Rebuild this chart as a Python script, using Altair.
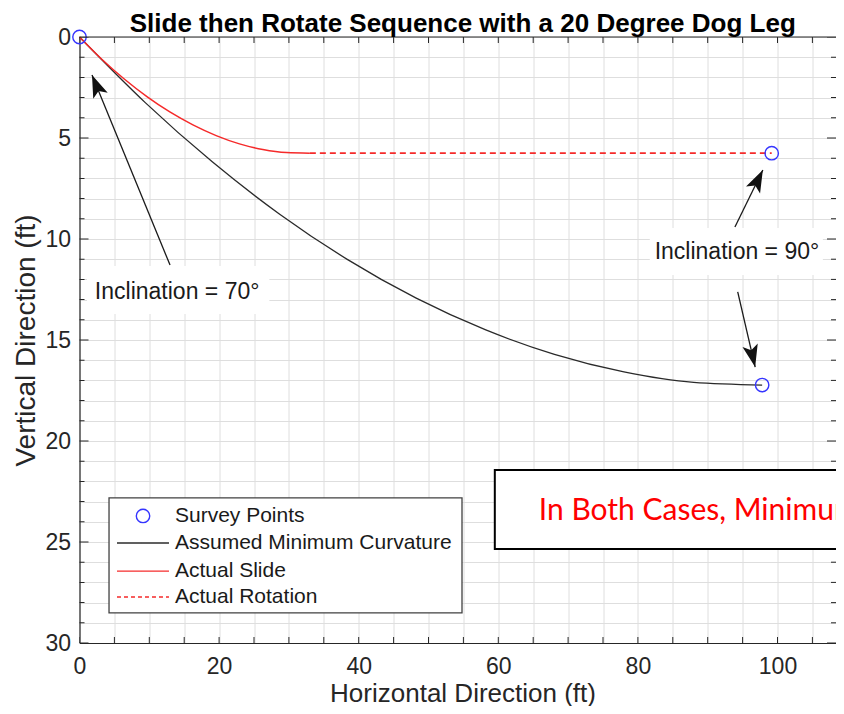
import math
import altair as alt
import pandas as pd

# ---------------- data ----------------
mc_x = [0, 9.46, 19.02, 28.68, 38.42, 48.24, 58.12, 68.04, 78.00, 87.99, 97.80]
mc_y = [0, 3.26, 6.18, 8.77, 11.02, 12.93, 14.49, 15.71, 16.58, 17.10, 17.23]

slide_x = [0, 3.19, 6.41, 9.66, 12.94, 16.25, 19.58, 22.92, 26.27, 29.64, 33.00]
slide_y = [0, 1.10, 2.08, 2.95, 3.71, 4.35, 4.88, 5.29, 5.57, 5.72, 5.75]

rot_x = [33.00, 99.17]
rot_y = [5.75, 5.75]

survey_x = [0, 99.17, 97.80]
survey_y = [0, 5.75, 17.23]

arrow_x0 = [12.97, 93.9, 94.3]
arrow_y0 = [11.29, 9.41, 12.62]
arrow_x1 = [1.79, 97.9, 96.8]
arrow_y1 = [1.88, 6.58, 16.34]

ann_text = ["Inclination = 70°", "Inclination = 90°"]
ann_x = [2.2, 82.4]
ann_y = [12.6, 10.62]
ann_box_x0 = [1.07, 81.7]
ann_box_x1 = [27.2, 106.5]
ann_box_y0 = [11.34, 9.46]
ann_box_y1 = [13.71, 11.78]

legend_labels = ["Survey Points", "Assumed Minimum Curvature", "Actual Slide", "Actual Rotation"]

note_text = ["In Both Cases, Minimum Curvature"]
title_text = ["Slide then Rotate Sequence with a 20 Degree Dog Leg"]

x_ticks = list(range(0, 110, 5))
y_major = list(range(0, 31, 5))
y_minor = [v for v in range(0, 31) if v % 5 != 0]
y_grid = list(range(0, 31))

# ---------------- layout ----------------
W = 756.5
H = 606
XMAX = W / 6.98
PX = W / XMAX
PY = H / 30.0
FONT = "Liberation Sans"
AX = "#262626"
RED = "#f52a2a"

xs = alt.Scale(domain=[0, XMAX], nice=False, zero=False)
ys = alt.Scale(domain=[0, 30], reverse=True, nice=False, zero=False)

xaxis = alt.Axis(
    values=x_ticks, labelExpr="datum.value % 20 == 0 ? datum.label : ''",
    title="Horizontal Direction (ft)", grid=True, gridColor="#dedede", gridWidth=1,
    ticks=False, domain=True, domainColor=AX, domainWidth=1.2,
    labelFont=FONT, labelFontSize=23, labelColor=AX, labelPadding=12,
    labelFlush=False, labelOverlap=False,
    titleFont=FONT, titleFontSize=26, titleFontWeight="normal", titleColor=AX,
    titleX=383, titleY=37,
)
yaxis = alt.Axis(
    values=y_grid, labelExpr="datum.value % 5 == 0 ? datum.label : ''",
    title="Vertical Direction (ft)", grid=True, gridColor="#dedede", gridWidth=1,
    ticks=False, domain=True, domainColor=AX, domainWidth=1.2,
    labelFont=FONT, labelFontSize=23, labelColor=AX, labelPadding=9,
    labelFlush=False, labelOverlap=False,
    titleFont=FONT, titleFontSize=28, titleFontWeight="normal", titleColor=AX,
    titlePadding=4,
)


def X(f="x"):
    return alt.X(f, type="quantitative", scale=xs, axis=xaxis)


def Y(f="y"):
    return alt.Y(f, type="quantitative", scale=ys, axis=yaxis)


# ---------------- frame & ticks ----------------
top_border = alt.Chart(pd.DataFrame({"y": [0]})).mark_rule(color=AX, strokeWidth=1.2).encode(y=Y())

tick_layers = []
for yy in (0, 30):
    tick_layers.append(
        alt.Chart(pd.DataFrame({"x": x_ticks, "y": [yy] * len(x_ticks)}))
        .mark_tick(orient="vertical", size=12, thickness=1, clip=True, color=AX, opacity=1)
        .encode(x=X(), y=Y())
    )
for xx in (0, XMAX):
    for vals, sz in ((y_major, 18), (y_minor, 10)):
        tick_layers.append(
            alt.Chart(pd.DataFrame({"x": [xx] * len(vals), "y": vals}))
            .mark_tick(orient="horizontal", size=sz, thickness=1, clip=True, color=AX, opacity=1)
            .encode(x=X(), y=Y())
        )

# ---------------- annotation boxes ----------------
ann_boxes = alt.Chart(pd.DataFrame({"x": ann_box_x0, "x2": ann_box_x1, "y": ann_box_y0, "y2": ann_box_y1})).mark_rect(
    fill="white", clip=True
).encode(x=X(), x2="x2", y=Y(), y2="y2")

# ---------------- curves ----------------
mc_line = alt.Chart(pd.DataFrame({"x": mc_x, "y": mc_y})).mark_line(
    color="#2a2a2a", strokeWidth=1.3, interpolate="monotone"
).encode(x=X(), y=Y(), order=alt.Order("x:Q"))

slide_line = alt.Chart(pd.DataFrame({"x": slide_x, "y": slide_y})).mark_line(
    color=RED, strokeWidth=1.5, interpolate="monotone"
).encode(x=X(), y=Y(), order=alt.Order("x:Q"))

rot_line = alt.Chart(pd.DataFrame({"x": rot_x, "y": rot_y})).mark_line(
    color=RED, strokeWidth=1.6, strokeDash=[6, 4]
).encode(x=X(), y=Y())

survey = alt.Chart(pd.DataFrame({"x": survey_x, "y": survey_y})).mark_point(
    shape="circle", size=180, color="#3535ff", strokeWidth=1.4, filled=False, opacity=1
).encode(x=X(), y=Y())

# ---------------- arrows ----------------
angles = []
for x0, y0, x1, y1 in zip(arrow_x0, arrow_y0, arrow_x1, arrow_y1):
    dxp = (x1 - x0) * PX
    dyp = (y1 - y0) * PY
    angles.append(math.degrees(math.atan2(dxp, -dyp)) % 360)

arrow_df = pd.DataFrame({"x": arrow_x0, "y": arrow_y0, "x2": arrow_x1, "y2": arrow_y1, "ang": angles})
arrow_lines = alt.Chart(arrow_df).mark_rule(color="#1a1a1a", strokeWidth=1.3).encode(
    x=X(), y=Y(), x2="x2", y2="y2"
)
head_df = pd.DataFrame({"x": arrow_x1, "y": arrow_y1, "ang": angles})
arrow_heads = alt.Chart(head_df).mark_point(
    shape="M0,0L0.7,2L0,1.55L-0.7,2Z", size=500, filled=True, color="#111111", opacity=1, strokeWidth=0
).encode(x=X(), y=Y(), angle=alt.Angle("ang:Q", scale=None))

ann_texts = alt.Chart(pd.DataFrame({"x": ann_x, "y": ann_y, "t": ann_text})).mark_text(
    align="left", baseline="middle", font=FONT, fontSize=23, color="#1a1a1a"
).encode(x=X(), y=Y(), text="t:N")

# ---------------- legend ----------------
LX0, LX1, LY0, LY1 = 4.23, 54.8, 22.82, 28.51
leg_rows = [23.71, 25.05, 26.44, 27.72]
leg_sym_x0, leg_sym_x1, leg_sym_c, leg_text_x = 5.37, 12.82, 9.1, 13.68

leg_box = alt.Chart(pd.DataFrame({"x": [LX0], "x2": [LX1], "y": [LY0], "y2": [LY1]})).mark_rect(
    fill="white", stroke="#404040", strokeWidth=1.3
).encode(x=X(), x2="x2", y=Y(), y2="y2")

leg_circle = alt.Chart(pd.DataFrame({"x": [leg_sym_c], "y": [leg_rows[0]]})).mark_point(
    shape="circle", size=180, color="#3535ff", strokeWidth=1.4, filled=False, opacity=1
).encode(x=X(), y=Y())

leg_lines = []
for row, col, dash in ((leg_rows[1], "#2a2a2a", [1, 0]), (leg_rows[2], RED, [1, 0]), (leg_rows[3], RED, [4, 3])):
    leg_lines.append(
        alt.Chart(pd.DataFrame({"x": [leg_sym_x0], "x2": [leg_sym_x1], "y": [row]})).mark_rule(
            color=col, strokeWidth=1.4, strokeDash=dash
        ).encode(x=X(), x2="x2", y=Y())
    )

leg_texts = alt.Chart(pd.DataFrame({"x": [leg_text_x] * 4, "y": leg_rows, "t": legend_labels})).mark_text(
    align="left", baseline="middle", font=FONT, fontSize=21, color="#1a1a1a"
).encode(x=X(), y=Y(), text="t:N")

# ---------------- red note box ----------------
note_box = alt.Chart(pd.DataFrame({"x": [59.5], "x2": [130.0], "y": [21.43], "y2": [25.35]})).mark_rect(
    fill="white", stroke="black", strokeWidth=2, clip=True
).encode(x=X(), x2="x2", y=Y(), y2="y2")

note = alt.Chart(pd.DataFrame({"x": [65.8], "y": [23.45], "t": note_text})).mark_text(
    align="left", baseline="middle", font="Lato", fontSize=30, color="#ff0000", clip=True
).encode(x=X(), y=Y(), text="t:N")

# ---------------- title (as text above the plot) ----------------
title = alt.Chart(pd.DataFrame({"t": title_text})).mark_text(
    align="center", baseline="alphabetic", font=FONT, fontSize=26, fontWeight="bold", color="black"
).encode(x=alt.value(W / 2 + 5), y=alt.value(-5), text="t:N")

layers = (
    [ann_boxes, mc_line, slide_line, rot_line, survey, top_border]
    + tick_layers
    + [arrow_lines, arrow_heads, ann_texts, leg_box, leg_circle]
    + leg_lines
    + [leg_texts, note_box, note, title]
)

chart = (
    alt.layer(*layers)
    .properties(
        width=W,
        height=H,
        autosize=alt.AutoSizeParams(type="none"),
        padding={"left": 71.5, "top": 29, "right": 0, "bottom": 63},
        background="white",
    )
    .configure_view(strokeWidth=0)
)

chart.save("out.html", embed_options={"renderer": "svg", "actions": False})
